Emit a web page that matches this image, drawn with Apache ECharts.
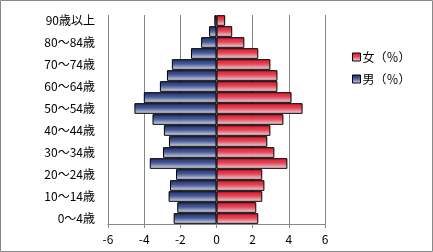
<!DOCTYPE html>
<html>
<head>
<meta charset="utf-8">
<script src="https://cdn.jsdelivr.net/npm/echarts@6/dist/echarts.min.js"></script>
<style>
html,body{margin:0;padding:0;background:#fff;}
#c{width:433px;height:252px;}
</style>
</head>
<body>
<div id="c"></div>
<script>
const categories = ['0～4歳','5～9歳','10～14歳','15～19歳','20～24歳','25～29歳','30～34歳','35～39歳','40～44歳','45～49歳','50～54歳','55～59歳','60～64歳','65～69歳','70～74歳','75～79歳','80～84歳','85～89歳','90歳以上'];
const maleValues = [-2.37,-2.17,-2.65,-2.57,-2.24,-3.69,-2.96,-2.63,-2.91,-3.54,-4.54,-4.02,-3.13,-2.74,-2.47,-1.41,-0.85,-0.41,-0.12];
const femaleValues = [2.31,2.2,2.53,2.65,2.53,3.92,3.2,2.81,2.98,3.7,4.76,4.15,3.37,3.37,2.98,2.31,1.54,0.87,0.48];
const xTicks = [-6,-4,-2,0,2,4,6];
const femaleName = '女（％）';
const maleName = '男（％）';

const font = '"Noto Sans CJK JP", sans-serif';
const redGrad = new echarts.graphic.LinearGradient(0,0,0,1,[
  {offset:0,color:'#dc1428'},{offset:0.45,color:'#e24858'},{offset:1,color:'#f0e0e8'}]);
const blueGrad = new echarts.graphic.LinearGradient(0,0,0,1,[
  {offset:0,color:'#1c2c6c'},{offset:0.45,color:'#4a5a94'},{offset:1,color:'#dde2ee'}]);

const chart = echarts.init(document.getElementById('c'), null, {renderer:'canvas'});
chart.setOption({
  animation:false,
  backgroundColor:'#fff',
  graphic:[{type:'rect',shape:{x:0.5,y:0.5,width:432,height:251},style:{fill:'none',stroke:'#888',lineWidth:1},silent:true,z:100}],
  grid:{left:108,right:108,top:15,bottom:28,containLabel:false},
  legend:{
    orient:'vertical',left:347,top:46,itemWidth:8,itemHeight:8,itemGap:10,
    icon:'rect',
    textStyle:{fontFamily:font,fontSize:12,color:'#000',padding:[0,0,0,-3]},
    data:[{name:femaleName,itemStyle:{color:redGrad,borderColor:'#000',borderWidth:1}},
          {name:maleName,itemStyle:{color:blueGrad,borderColor:'#000',borderWidth:1}}]
  },
  xAxis:{
    type:'value',min:-6,max:6,interval:2,
    axisLine:{show:true,lineStyle:{color:'#888'}},
    axisTick:{show:true,length:4,lineStyle:{color:'#888'}},
    axisLabel:{fontFamily:font,fontSize:12,color:'#000',margin:9,
      formatter:v=> xTicks.includes(v)? String(v):''},
    splitLine:{show:true,lineStyle:{color:'#888',width:1}}
  },
  yAxis:{
    type:'category',data:categories,
    axisLine:{show:false},axisTick:{show:false},
    axisLabel:{interval:1,fontFamily:font,fontSize:12,color:'#000',margin:13}
  },
  series:[
    {name:femaleName,type:'bar',data:femaleValues,barGap:'-100%',barCategoryGap:'3%',
     itemStyle:{color:redGrad,borderColor:'#000',borderWidth:1}},
    {name:maleName,type:'bar',data:maleValues,barGap:'-100%',barCategoryGap:'3%',
     itemStyle:{color:blueGrad,borderColor:'#000',borderWidth:1}}
  ]
});
</script>
</body>
</html>
